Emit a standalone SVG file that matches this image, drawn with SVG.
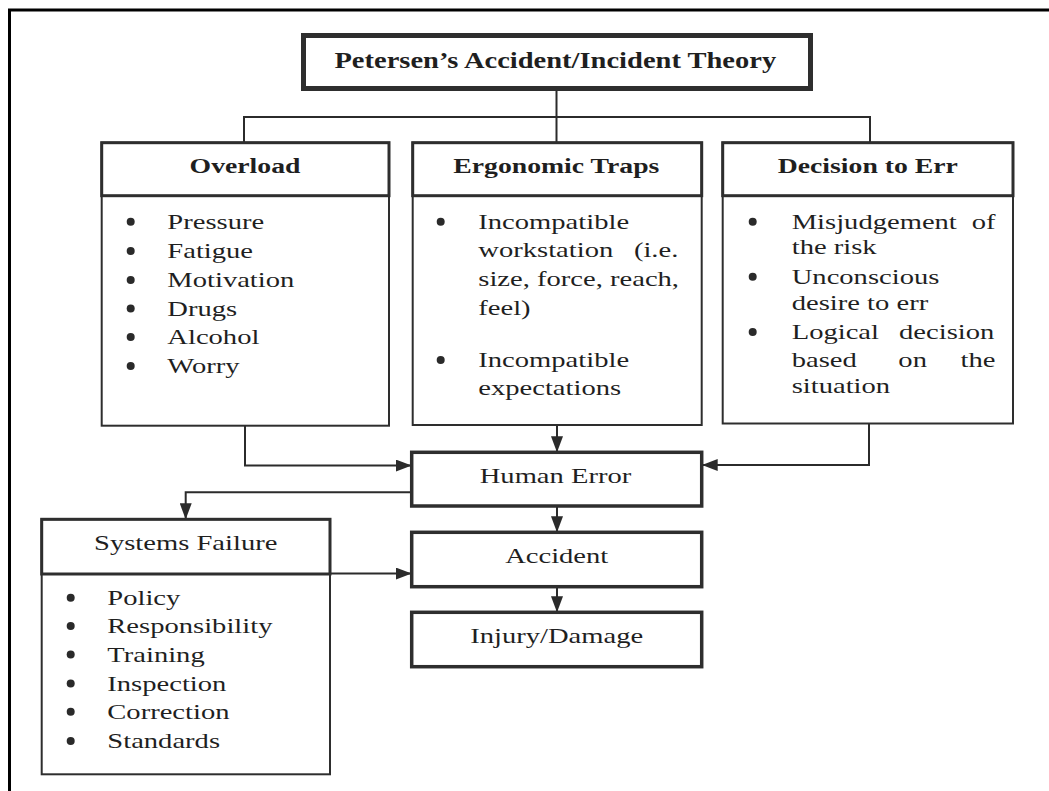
<svg xmlns="http://www.w3.org/2000/svg" width="1049" height="791" viewBox="0 0 1049 791">
<style>
.t{font-family:"Liberation Serif","Times New Roman",serif;fill:#1f1f1f}
.b{font-weight:bold;font-size:22px}
.r{font-size:21.5px}
.ti{font-weight:bold;font-size:23px}
.box{fill:#fff;stroke:#2e2e2e}
.thick{stroke-width:3.5}
.thin{stroke-width:2}
.hdr{fill:none;stroke:#2e2e2e;stroke-width:3}
.dot{fill:#2a2a2a}
.c{fill:none;stroke:#2b2b2b;stroke-width:2}
</style>
<defs>
<marker id="arr" viewBox="0 0 16 12" markerWidth="16" markerHeight="12" refX="16" refY="6" orient="auto" markerUnits="userSpaceOnUse"><path d="M0,0 L16,6 L0,12 z" fill="#2b2b2b"/></marker>
</defs>
<rect width="1049" height="791" fill="#fff"/>
<g id="frame">
<path d="M9.5,791 V10 H1049" fill="none" stroke="#000" stroke-width="3"/>
</g>
<g id="connectors">
<path class="c" d="M556.5,91 V142.7"/>
<path class="c" d="M244,142.7 V117 H870 V142.7"/>
<path class="c" d="M245,425.7 V465.5 H411.7" marker-end="url(#arr)"/>
<path class="c" d="M869,423.5 V465 H701.7" marker-end="url(#arr)"/>
<path class="c" d="M557,425 V452.3" marker-end="url(#arr)"/>
<path class="c" d="M557,506 V532.3" marker-end="url(#arr)"/>
<path class="c" d="M557,586.7 V612.3" marker-end="url(#arr)"/>
<path class="c" d="M411.7,492.3 H185.7 V519.3" marker-end="url(#arr)"/>
<path class="c" d="M330,573.5 H411.7" marker-end="url(#arr)"/>
</g>
<g id="title">
<rect class="box" x="303.5" y="35.5" width="507" height="53" stroke-width="5"/>
<text class="t ti" text-anchor="middle" transform="translate(555.3,67.7) scale(1.24,1)">Petersen’s Accident/Incident Theory</text>
</g>
<g id="overload">
<rect class="box thin" x="101.7" y="142.7" width="287.3" height="283"/>
<rect class="hdr" x="101.7" y="142.7" width="287.3" height="53"/>
<text class="t b" text-anchor="middle" transform="translate(245,173) scale(1.26,1)">Overload</text>
<circle class="dot" cx="130.7" cy="221.7" r="4"/>
<circle class="dot" cx="130.7" cy="251" r="4"/>
<circle class="dot" cx="130.7" cy="280" r="4"/>
<circle class="dot" cx="130.7" cy="308.4" r="4"/>
<circle class="dot" cx="130.7" cy="337" r="4"/>
<circle class="dot" cx="130.7" cy="366" r="4"/>
<text class="t r" transform="translate(167.3,229) scale(1.33,1)">Pressure</text>
<text class="t r" transform="translate(167.3,258.3) scale(1.33,1)">Fatigue</text>
<text class="t r" transform="translate(167.3,287.3) scale(1.33,1)">Motivation</text>
<text class="t r" transform="translate(167.3,315.7) scale(1.33,1)">Drugs</text>
<text class="t r" transform="translate(167.3,344.3) scale(1.33,1)">Alcohol</text>
<text class="t r" transform="translate(167.3,373.3) scale(1.33,1)">Worry</text>
</g>
<g id="ergonomic">
<rect class="box thin" x="412.7" y="142.7" width="289" height="282.3"/>
<rect class="hdr" x="412.7" y="142.7" width="289" height="53"/>
<text class="t b" text-anchor="middle" transform="translate(556.3,173) scale(1.26,1)">Ergonomic Traps</text>
<circle class="dot" cx="440.7" cy="221.7" r="4"/>
<circle class="dot" cx="440.7" cy="360" r="4"/>
<text class="t r" transform="translate(478.3,229) scale(1.33,1)">Incompatible</text>
<text class="t r" transform="translate(478.3,257.3) scale(1.33,1)"><tspan x="0">workstation</tspan><tspan x="117">(i.e.</tspan></text>
<text class="t r" transform="translate(478.3,286) scale(1.33,1)">size, force, reach,</text>
<text class="t r" transform="translate(478.3,315) scale(1.33,1)">feel)</text>
<text class="t r" transform="translate(478.3,367.3) scale(1.33,1)">Incompatible</text>
<text class="t r" transform="translate(478.3,395) scale(1.33,1)">expectations</text>
</g>
<g id="decision">
<rect class="box thin" x="722.7" y="142.7" width="290.3" height="280.8"/>
<rect class="hdr" x="722.7" y="142.7" width="290.3" height="53"/>
<text class="t b" text-anchor="middle" transform="translate(867.8,173) scale(1.26,1)">Decision to Err</text>
<circle class="dot" cx="752.7" cy="221.7" r="4"/>
<circle class="dot" cx="752.7" cy="276.7" r="4"/>
<circle class="dot" cx="752.7" cy="332" r="4"/>
<text class="t r" transform="translate(791.7,229) scale(1.33,1)"><tspan x="0">Misjudgement</tspan><tspan x="135.3">of</tspan></text>
<text class="t r" transform="translate(791.7,254) scale(1.33,1)">the risk</text>
<text class="t r" transform="translate(791.7,284) scale(1.33,1)">Unconscious</text>
<text class="t r" transform="translate(791.7,310) scale(1.33,1)">desire to err</text>
<text class="t r" transform="translate(791.7,339.3) scale(1.33,1)"><tspan x="0">Logical</tspan><tspan x="80.7">decision</tspan></text>
<text class="t r" transform="translate(791.7,366.7) scale(1.33,1)"><tspan x="0">based</tspan><tspan x="80.2">on</tspan><tspan x="127">the</tspan></text>
<text class="t r" transform="translate(791.7,393.3) scale(1.33,1)">situation</text>
</g>
<g id="human-error">
<rect class="box thick" x="411.7" y="452.3" width="290" height="53.7"/>
<text class="t r" text-anchor="middle" transform="translate(555.5,483) scale(1.33,1)">Human Error</text>
</g>
<g id="accident">
<rect class="box thick" x="411.7" y="532.3" width="290" height="54.4"/>
<text class="t r" text-anchor="middle" transform="translate(556.7,562.7) scale(1.33,1)">Accident</text>
</g>
<g id="injury">
<rect class="box thick" x="411.7" y="612.3" width="290" height="54.4"/>
<text class="t r" text-anchor="middle" transform="translate(556.7,642.7) scale(1.33,1)">Injury/Damage</text>
</g>
<g id="systems-failure">
<rect class="box thin" x="41.7" y="519.3" width="288.3" height="255"/>
<rect class="hdr" x="41.7" y="519.3" width="288.3" height="54.7"/>
<text class="t r" text-anchor="middle" transform="translate(185.7,550) scale(1.33,1)">Systems Failure</text>
<circle class="dot" cx="70.7" cy="597.7" r="4"/>
<circle class="dot" cx="70.7" cy="626" r="4"/>
<circle class="dot" cx="70.7" cy="654.4" r="4"/>
<circle class="dot" cx="70.7" cy="683.4" r="4"/>
<circle class="dot" cx="70.7" cy="711.7" r="4"/>
<circle class="dot" cx="70.7" cy="741" r="4"/>
<text class="t r" transform="translate(107.3,605) scale(1.33,1)">Policy</text>
<text class="t r" transform="translate(107.3,633.3) scale(1.33,1)">Responsibility</text>
<text class="t r" transform="translate(107.3,661.7) scale(1.33,1)">Training</text>
<text class="t r" transform="translate(107.3,690.7) scale(1.33,1)">Inspection</text>
<text class="t r" transform="translate(107.3,719) scale(1.33,1)">Correction</text>
<text class="t r" transform="translate(107.3,748.3) scale(1.33,1)">Standards</text>
</g>
</svg>
